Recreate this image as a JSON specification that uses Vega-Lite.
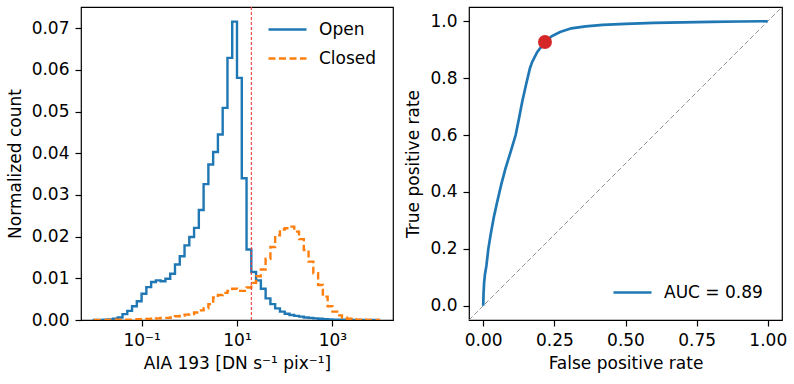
{
  "$schema": "https://vega.github.io/schema/vega-lite/v6.json",
  "padding": {"left": 5, "top": 5, "right": 5, "bottom": 5},
  "background": "white",
  "config": {
    "font": "DejaVu Sans",
    "view": {"stroke": "#000", "strokeWidth": 1.2},
    "axis": {"domain": false, "grid": false, "tickColor": "#000", "tickSize": 6, "tickWidth": 1.2, "labelFontSize": 17, "labelColor": "#000", "titleFontSize": 17, "titleFontWeight": "normal", "titleColor": "#000", "labelPadding": 6, "titlePadding": 7},
    "legend": {"labelFontSize": 17, "labelColor": "#000", "symbolType": "stroke", "labelOffset": 11, "rowPadding": -17}
  },
  "datasets": {
    "hist": [
      {"i": 0, "edge": 0.01, "Open": 0, "Closed": 0},
      {"i": 1, "edge": 0.01, "Open": 0.00001, "Closed": 0},
      {"i": 2, "edge": 0.012589, "Open": 0.00002, "Closed": 0},
      {"i": 3, "edge": 0.015849, "Open": 0.00005, "Closed": 0},
      {"i": 4, "edge": 0.019953, "Open": 0.00015, "Closed": 0},
      {"i": 5, "edge": 0.025119, "Open": 0.0003, "Closed": 0.00005},
      {"i": 6, "edge": 0.031623, "Open": 0.0006, "Closed": 0.00005},
      {"i": 7, "edge": 0.039811, "Open": 0.0014, "Closed": 0.0001},
      {"i": 8, "edge": 0.050119, "Open": 0.0022, "Closed": 0.0001},
      {"i": 9, "edge": 0.063096, "Open": 0.0033, "Closed": 0.00015},
      {"i": 10, "edge": 0.079433, "Open": 0.0045, "Closed": 0.0002},
      {"i": 11, "edge": 0.1, "Open": 0.0063, "Closed": 0.0002},
      {"i": 12, "edge": 0.12589, "Open": 0.0079, "Closed": 0.00025},
      {"i": 13, "edge": 0.15849, "Open": 0.0091, "Closed": 0.0003},
      {"i": 14, "edge": 0.19953, "Open": 0.0095, "Closed": 0.0004},
      {"i": 15, "edge": 0.25119, "Open": 0.0093, "Closed": 0.0005},
      {"i": 16, "edge": 0.31623, "Open": 0.0099, "Closed": 0.0005},
      {"i": 17, "edge": 0.39811, "Open": 0.0111, "Closed": 0.0006},
      {"i": 18, "edge": 0.50119, "Open": 0.0133, "Closed": 0.0009},
      {"i": 19, "edge": 0.63096, "Open": 0.0153, "Closed": 0.001},
      {"i": 20, "edge": 0.79433, "Open": 0.0179, "Closed": 0.0013},
      {"i": 21, "edge": 1, "Open": 0.0199, "Closed": 0.0014},
      {"i": 22, "edge": 1.2589, "Open": 0.0221, "Closed": 0.0018},
      {"i": 23, "edge": 1.5849, "Open": 0.0264, "Closed": 0.0023},
      {"i": 24, "edge": 1.9953, "Open": 0.0326, "Closed": 0.0028},
      {"i": 25, "edge": 2.5119, "Open": 0.0373, "Closed": 0.0038},
      {"i": 26, "edge": 3.1623, "Open": 0.0403, "Closed": 0.0054},
      {"i": 27, "edge": 3.9811, "Open": 0.0445, "Closed": 0.006},
      {"i": 28, "edge": 5.0119, "Open": 0.0509, "Closed": 0.0065},
      {"i": 29, "edge": 6.3096, "Open": 0.0629, "Closed": 0.007},
      {"i": 30, "edge": 7.9433, "Open": 0.0716, "Closed": 0.0075},
      {"i": 31, "edge": 10, "Open": 0.0581, "Closed": 0.007},
      {"i": 32, "edge": 12.589, "Open": 0.034, "Closed": 0.007},
      {"i": 33, "edge": 15.849, "Open": 0.0169, "Closed": 0.0078},
      {"i": 34, "edge": 19.953, "Open": 0.0115, "Closed": 0.0089},
      {"i": 35, "edge": 25.119, "Open": 0.0095, "Closed": 0.0105},
      {"i": 36, "edge": 31.623, "Open": 0.0075, "Closed": 0.0121},
      {"i": 37, "edge": 39.811, "Open": 0.0052, "Closed": 0.0147},
      {"i": 38, "edge": 50.119, "Open": 0.0038, "Closed": 0.0175},
      {"i": 39, "edge": 63.096, "Open": 0.0028, "Closed": 0.0203},
      {"i": 40, "edge": 79.433, "Open": 0.002, "Closed": 0.0217},
      {"i": 41, "edge": 100, "Open": 0.0015, "Closed": 0.022},
      {"i": 42, "edge": 125.89, "Open": 0.0012, "Closed": 0.0224},
      {"i": 43, "edge": 158.49, "Open": 0.001, "Closed": 0.0212},
      {"i": 44, "edge": 199.53, "Open": 0.0008, "Closed": 0.0194},
      {"i": 45, "edge": 251.19, "Open": 0.0006, "Closed": 0.0168},
      {"i": 46, "edge": 316.23, "Open": 0.0005, "Closed": 0.014},
      {"i": 47, "edge": 398.11, "Open": 0.0004, "Closed": 0.0112},
      {"i": 48, "edge": 501.19, "Open": 0.0003, "Closed": 0.0084},
      {"i": 49, "edge": 630.96, "Open": 0.0002, "Closed": 0.0056},
      {"i": 50, "edge": 794.33, "Open": 0.00015, "Closed": 0.0033},
      {"i": 51, "edge": 1000, "Open": 0.0001, "Closed": 0.002},
      {"i": 52, "edge": 1258.9, "Open": 0.00007, "Closed": 0.0011},
      {"i": 53, "edge": 1584.9, "Open": 0.00005, "Closed": 0.0006},
      {"i": 54, "edge": 1995.3, "Open": 0.00003, "Closed": 0.0003},
      {"i": 55, "edge": 2511.9, "Open": 0.00002, "Closed": 0.00015},
      {"i": 56, "edge": 3162.3, "Open": 0.00001, "Closed": 0.0001},
      {"i": 57, "edge": 3981.1, "Open": 0, "Closed": 0.00005},
      {"i": 58, "edge": 5011.9, "Open": 0, "Closed": 0.00003},
      {"i": 59, "edge": 6309.6, "Open": 0, "Closed": 0.00001},
      {"i": 60, "edge": 7943.3, "Open": 0, "Closed": 0},
      {"i": 61, "edge": 10000, "Open": 0, "Closed": 0}
    ],
    "roc": [
      {"fpr": 0, "tpr": 0},
      {"fpr": 0.001, "tpr": 0.04},
      {"fpr": 0.003, "tpr": 0.08},
      {"fpr": 0.006, "tpr": 0.11},
      {"fpr": 0.011, "tpr": 0.14},
      {"fpr": 0.018, "tpr": 0.2},
      {"fpr": 0.026, "tpr": 0.25},
      {"fpr": 0.037, "tpr": 0.31},
      {"fpr": 0.049, "tpr": 0.365},
      {"fpr": 0.063, "tpr": 0.425},
      {"fpr": 0.078, "tpr": 0.482},
      {"fpr": 0.096, "tpr": 0.54},
      {"fpr": 0.114, "tpr": 0.6},
      {"fpr": 0.126, "tpr": 0.66},
      {"fpr": 0.137, "tpr": 0.717},
      {"fpr": 0.15, "tpr": 0.775},
      {"fpr": 0.164, "tpr": 0.834},
      {"fpr": 0.172, "tpr": 0.857},
      {"fpr": 0.19, "tpr": 0.892},
      {"fpr": 0.217, "tpr": 0.927},
      {"fpr": 0.24, "tpr": 0.947},
      {"fpr": 0.27, "tpr": 0.962},
      {"fpr": 0.31, "tpr": 0.975},
      {"fpr": 0.36, "tpr": 0.982},
      {"fpr": 0.42, "tpr": 0.987},
      {"fpr": 0.5, "tpr": 0.991},
      {"fpr": 0.6, "tpr": 0.994},
      {"fpr": 0.7, "tpr": 0.996},
      {"fpr": 0.8, "tpr": 0.998},
      {"fpr": 0.9, "tpr": 0.999},
      {"fpr": 1, "tpr": 1}
    ]
  },
  "spacing": 76,
  "bounds": "flush",
  "hconcat": [
    {
      "width": 312,
      "height": 313,
      "layer": [
        {
          "data": {"name": "hist"},
          "transform": [{"fold": ["Open", "Closed"], "as": ["series", "value"]}],
          "mark": {"type": "line", "interpolate": "step-after", "strokeWidth": 2.4, "clip": true},
          "encoding": {
            "x": {"field": "edge", "type": "quantitative", "scale": {"type": "log", "domain": [0.00537, 18620], "nice": false}, "axis": {"values": [0.1, 10, 1000], "labelExpr": "datum.value < 1 ? '10⁻¹' : (datum.value < 100 ? '10¹' : '10³')", "title": "AIA 193 [DN s⁻¹ pix⁻¹]"}},
            "y": {"field": "value", "type": "quantitative", "scale": {"domain": [0, 0.0751], "nice": false}, "axis": {"values": [0, 0.01, 0.02, 0.03, 0.04, 0.05, 0.06, 0.07], "format": ".2f", "title": "Normalized count"}},
            "order": {"field": "i", "type": "quantitative"},
            "color": {"field": "series", "type": "nominal", "scale": {"domain": ["Open", "Closed"], "range": ["#1f77b4", "#ff7f0e"]}, "legend": {"title": null, "orient": "none", "legendX": 186, "legendY": 2, "symbolSize": 1444, "symbolStrokeWidth": 2.4}},
            "strokeDash": {"field": "series", "type": "nominal", "scale": {"domain": ["Open", "Closed"], "range": [[1, 0], [7, 3.5]]}, "legend": {"title": null, "orient": "none", "legendX": 186, "legendY": 2, "symbolSize": 1444, "symbolStrokeWidth": 2.4}}
          }
        },
        {
          "data": {"values": [{"thr": 20}]},
          "mark": {"type": "rule", "stroke": "#f04040", "color": "#f04040", "strokeWidth": 1.1, "strokeDash": [3, 2]},
          "encoding": {"x": {"field": "thr", "type": "quantitative"}}
        }
      ]
    },
    {
      "width": 313,
      "height": 313,
      "layer": [
        {
          "data": {"values": [{"fpr": -0.05, "tpr": -0.05}, {"fpr": 1.05, "tpr": 1.05}]},
          "mark": {"type": "line", "color": "#8a8a8a", "strokeWidth": 0.9, "strokeDash": [5, 2.5], "clip": true},
          "encoding": {
            "x": {"field": "fpr", "type": "quantitative", "scale": {"domain": [-0.05, 1.05], "nice": false, "zero": false}, "axis": {"values": [0, 0.25, 0.5, 0.75, 1], "format": ".2f", "title": "False positive rate"}},
            "y": {"field": "tpr", "type": "quantitative", "scale": {"domain": [-0.05, 1.05], "nice": false, "zero": false}, "axis": {"values": [0, 0.2, 0.4, 0.6, 0.8, 1], "format": ".1f", "title": "True positive rate"}}
          }
        },
        {
          "data": {"name": "roc"},
          "mark": {"type": "line", "strokeWidth": 2.7},
          "encoding": {
            "x": {"field": "fpr", "type": "quantitative", "title": "False positive rate"},
            "y": {"field": "tpr", "type": "quantitative", "title": "True positive rate"},
            "color": {"datum": "AUC = 0.89", "scale": {"range": ["#1f77b4"]}, "legend": {"title": null, "orient": "none", "legendX": 143, "legendY": 265, "symbolSize": 1444, "symbolStrokeWidth": 2.7}}
          }
        },
        {
          "data": {"values": [{"fpr": 0.217, "tpr": 0.927}]},
          "mark": {"type": "circle", "size": 194, "color": "#d62728", "opacity": 1},
          "encoding": {
            "x": {"field": "fpr", "type": "quantitative", "title": "False positive rate"},
            "y": {"field": "tpr", "type": "quantitative", "title": "True positive rate"}
          }
        }
      ]
    }
  ],
  "resolve": {"scale": {"color": "independent", "strokeDash": "independent"}}
}
